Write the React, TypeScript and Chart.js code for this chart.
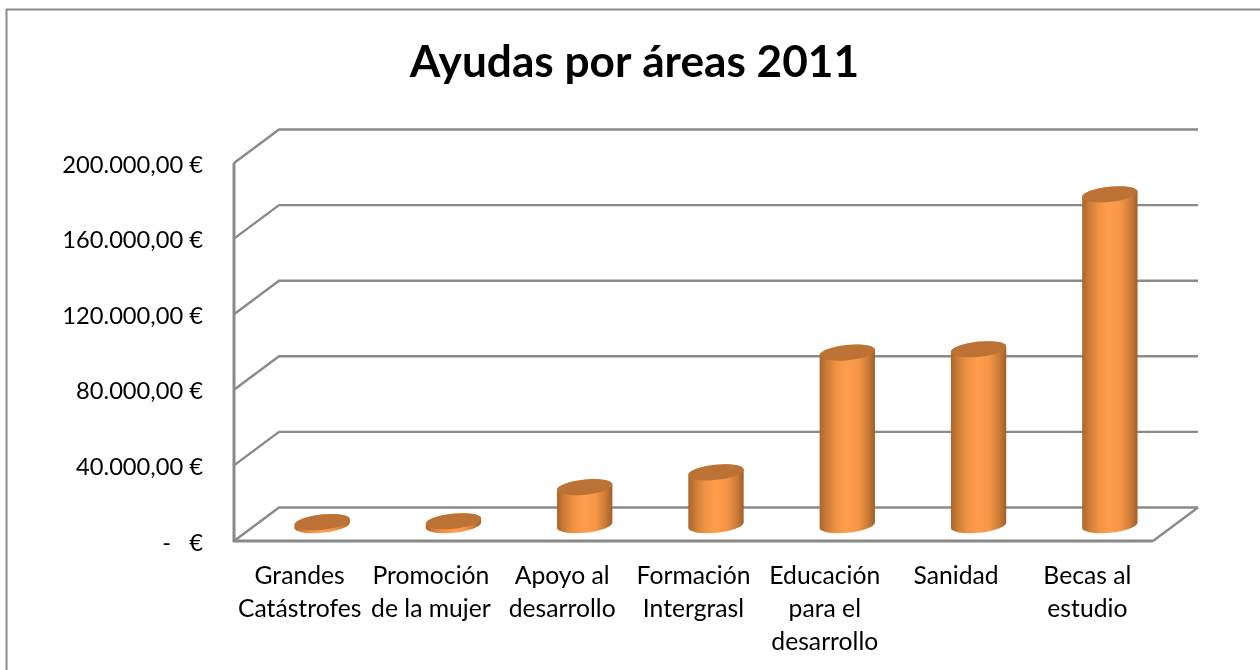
import React, { useEffect, useRef } from "react";
import { Chart, registerables } from "chart.js";

Chart.register(...registerables);

const categories = [
  ["Grandes", "Catástrofes"],
  ["Promoción", "de la mujer"],
  ["Apoyo al", "desarrollo"],
  ["Formación", "Intergrasl"],
  ["Educación", "para el", "desarrollo"],
  ["Sanidad"],
  ["Becas al", "estudio"],
];
const amounts = [1600, 2100, 20100, 28000, 91300, 93100, 175100];
const seriesName = "Ayudas";
const titleText = "Ayudas por áreas 2011";

const FONT = "Lato, Carlito, Calibri, sans-serif";
const GRID = "#8a8a8a";
const DX = 45;
const DY = 33.5;
const BAR_LIFT = 15.8;
const RX = 27.8;
const RY = 7.6;
const TILT = (-6 * Math.PI) / 180;

const frame3d = {
  id: "frame3d",
  beforeDraw(chart: any) {
    const ctx = chart.ctx;
    ctx.save();
    ctx.fillStyle = "#ffffff";
    ctx.fillRect(0, 0, chart.width, chart.height);
    ctx.strokeStyle = GRID;
    ctx.lineWidth = 2;
    ctx.beginPath();
    ctx.moveTo(6.5, 670);
    ctx.lineTo(6.5, 9.5);
    ctx.lineTo(1260, 9.5);
    ctx.stroke();
    ctx.restore();
  },
  beforeDatasetsDraw(chart: any) {
    const { ctx, chartArea: a, scales } = chart;
    const y = scales.y;
    ctx.save();
    ctx.strokeStyle = GRID;
    ctx.lineWidth = 2.4;
    y.ticks.forEach((t: any) => {
      const py = y.getPixelForValue(t.value);
      ctx.beginPath();
      ctx.moveTo(a.left, py);
      ctx.lineTo(a.left + DX, py - DY);
      ctx.lineTo(a.right + DX, py - DY);
      ctx.stroke();
    });
    const base = y.getPixelForValue(0);
    ctx.beginPath();
    ctx.moveTo(a.right + DX, base - DY);
    ctx.lineTo(a.right, base);
    ctx.stroke();
    ctx.lineWidth = 3;
    ctx.beginPath();
    ctx.moveTo(a.left, a.top);
    ctx.lineTo(a.left, base);
    ctx.lineTo(a.right, base);
    ctx.stroke();
    ctx.restore();
  },
  beforeDatasetDraw(chart: any) {
    const { ctx } = chart;
    const bars = chart.getDatasetMeta(0).data;
    const t0 = Math.atan((RY / RX) * Math.tan(-TILT));
    bars.forEach((bar: any) => {
      const cx = bar.x + DX / 2;
      const by = bar.base - BAR_LIFT;
      const ty = bar.y - BAR_LIFT;
      const g = ctx.createLinearGradient(cx - RX, 0, cx + RX, 0);
      g.addColorStop(0, "#a96429");
      g.addColorStop(0.12, "#cb7b36");
      g.addColorStop(0.3, "#f09244");
      g.addColorStop(0.48, "#ff9d4b");
      g.addColorStop(0.7, "#f59646");
      g.addColorStop(0.88, "#c97a36");
      g.addColorStop(1, "#9f5d28");
      ctx.save();
      ctx.fillStyle = g;
      ctx.beginPath();
      ctx.ellipse(cx, by, RX, RY, TILT, t0, t0 + Math.PI, false);
      ctx.ellipse(cx, ty, RX, RY, TILT, t0 + Math.PI, t0 + 2 * Math.PI, false);
      ctx.closePath();
      ctx.fill();
      ctx.fillStyle = "#bd7235";
      ctx.beginPath();
      ctx.ellipse(cx, ty, RX, RY, TILT, 0, 2 * Math.PI);
      ctx.fill();
      ctx.restore();
    });
    return false;
  },
};

export default function App() {
  const ref = useRef<HTMLCanvasElement>(null);
  useEffect(() => {
    document.body.style.margin = "0";
    const chart = new Chart(ref.current!, {
      type: "bar",
      data: {
        labels: categories as any,
        datasets: [
          {
            label: seriesName,
            data: amounts,
            backgroundColor: "#f79646",
            barThickness: 55,
          },
        ],
      },
      options: {
        responsive: false,
        animation: false,
        layout: { padding: { left: 9, right: 0, top: 0, bottom: 0 } },
        plugins: {
          legend: { display: false },
          tooltip: { enabled: false },
          title: {
            display: true,
            text: titleText,
            color: "#000000",
            font: { family: FONT, size: 44.2, weight: "bold", lineHeight: 1.2 },
            padding: { top: 36, bottom: 74 },
          },
        },
        scales: {
          x: {
            grid: { display: false, drawTicks: false },
            border: { display: false },
            afterFit(s: any) {
              s.height = 129;
            },
            ticks: {
              autoSkip: false,
              maxRotation: 0,
              minRotation: 0,
              padding: 19,
              color: "#000000",
              font: { family: FONT, size: 24.7, lineHeight: 33 / 24.7 },
            },
          },
          y: {
            min: 0,
            max: 200000,
            grid: { display: false, drawTicks: false },
            border: { display: false },
            afterFit(s: any) {
              s.width = 225;
            },
            afterBuildTicks(s: any) {
              s.ticks = [0, 40000, 80000, 120000, 160000, 200000].map((value) => ({ value }));
            },
            ticks: {
              padding: 31,
              labelOffset: 2,
              color: "#000000",
              font: { family: FONT, size: 23.7 },
              callback(v: any) {
                if (v === 0) return "-   €";
                return (
                  Number(v).toLocaleString("de-DE", {
                    minimumFractionDigits: 2,
                    maximumFractionDigits: 2,
                  }) + " €"
                );
              },
            },
          },
          depthSpace: {
            position: "right",
            min: 0,
            max: 1,
            grid: { display: false, drawTicks: false },
            border: { display: false },
            ticks: { display: false },
            afterFit(s: any) {
              s.width = 107;
            },
          },
        },
      },
      plugins: [frame3d],
    } as any);
    return () => chart.destroy();
  }, []);
  return (
    <div style={{ position: "absolute", left: 0, top: 0, width: 1260, height: 670, overflow: "hidden" }}>
      <canvas ref={ref} width={1260} height={670} style={{ display: "block" }} />
    </div>
  );
}
